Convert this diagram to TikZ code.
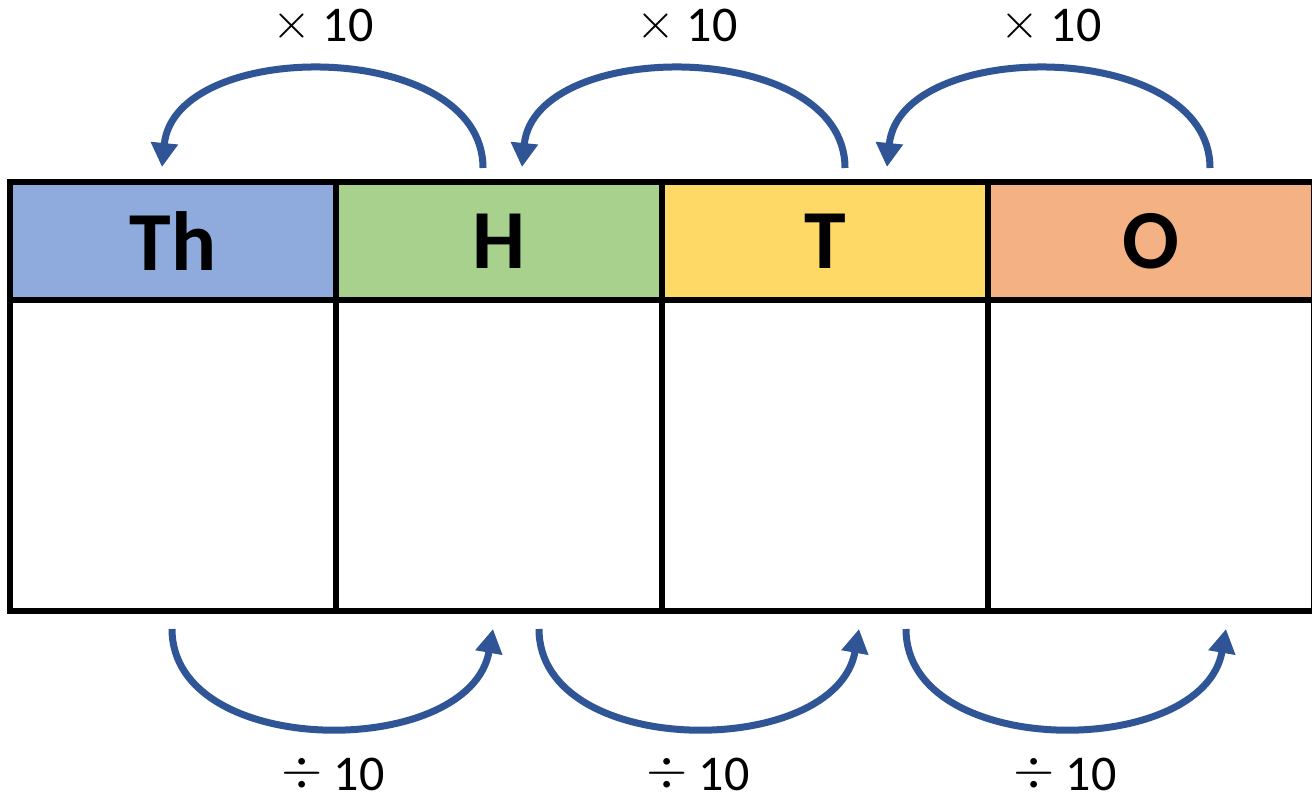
\documentclass[tikz,border=0pt]{standalone}
\usepackage{fontspec}
\setmainfont{Carlito}
\usetikzlibrary{arrows.meta}
\definecolor{arrowblue}{HTML}{2F5597}
\definecolor{thblue}{HTML}{8FAADC}
\definecolor{hgreen}{HTML}{A9D18E}
\definecolor{tyellow}{HTML}{FFD966}
\definecolor{oorange}{HTML}{F4B183}
\newcommand{\mytimes}{\raisebox{3.5pt}{\fontsize{10}{10}\selectfont\scalebox{5}{$\times$}}}
\newcommand{\mydiv}{\raisebox{3.5pt}{\fontsize{10}{10}\selectfont\scalebox{5.3}{$\div$}}}
\begin{document}
\begin{tikzpicture}[x=1pt,y=-1pt,
  head/.style={draw=black,line width=5.5pt,minimum width=326pt,minimum height=118pt,inner sep=0pt,
    font=\fontsize{84}{84}\selectfont\bfseries},
  body/.style={draw=black,line width=5.5pt,minimum width=326pt,minimum height=311pt,inner sep=0pt,fill=white},
  arr/.style={draw=arrowblue,line width=7pt,-{Triangle[length=24pt,width=26pt]}},
  lbl/.style={font=\fontsize{50}{50}\selectfont,inner sep=0pt,anchor=base}]
\useasboundingbox (0,0) rectangle (1312,802);
\clip (0,0) rectangle (1312,802);
\fill[white] (0,0) rectangle (1312,802);
% body cells
\node[body] (b1) at (173,455.5) {};
\node[body] (b2) at (499,455.5) {};
\node[body] (b3) at (825,455.5) {};
\node[body] (b4) at (1151,455.5) {};
% header cells
\node[head,fill=thblue] (th) at (173,241) {Th};
\node[head,fill=hgreen] (h) at (499,241) {H};
\node[head,fill=tyellow] (t) at (825,241) {T};
\node[head,fill=oorange] (o) at (1151,241) {O};
% top arrow endpoints
\coordinate (u1s) at (483,168);
\coordinate (u1e) at (162,167);
\coordinate (u2s) at (845,168);
\coordinate (u2e) at (522,167);
\coordinate (u3s) at (1210,168);
\coordinate (u3e) at (887,167);
\draw[arr] (u1s) .. controls +(0,-130) and +(13,-130) .. (u1e);
\draw[arr] (u2s) .. controls +(0,-130) and +(13,-130) .. (u2e);
\draw[arr] (u3s) .. controls +(0,-130) and +(13,-130) .. (u3e);
\node[lbl] (l1) at (323,42) {\mytimes\ 10};
\node[lbl] (l2) at (687,42) {\mytimes\ 10};
\node[lbl] (l3) at (1051,42) {\mytimes\ 10};
% bottom arrow endpoints
\coordinate (d1s) at (172,629);
\coordinate (d1e) at (493,629);
\coordinate (d2s) at (539,629);
\coordinate (d2e) at (859,629);
\coordinate (d3s) at (906,629);
\coordinate (d3e) at (1226,629);
\draw[arr] (d1s) .. controls +(0,131) and +(-23,131) .. (d1e);
\draw[arr] (d2s) .. controls +(0,131) and +(-23,131) .. (d2e);
\draw[arr] (d3s) .. controls +(0,131) and +(-23,131) .. (d3e);
\node[lbl] (m1) at (333,790) {\mydiv\ 10};
\node[lbl] (m2) at (698,790) {\mydiv\ 10};
\node[lbl] (m3) at (1065,790) {\mydiv\ 10};
\end{tikzpicture}
\end{document}
